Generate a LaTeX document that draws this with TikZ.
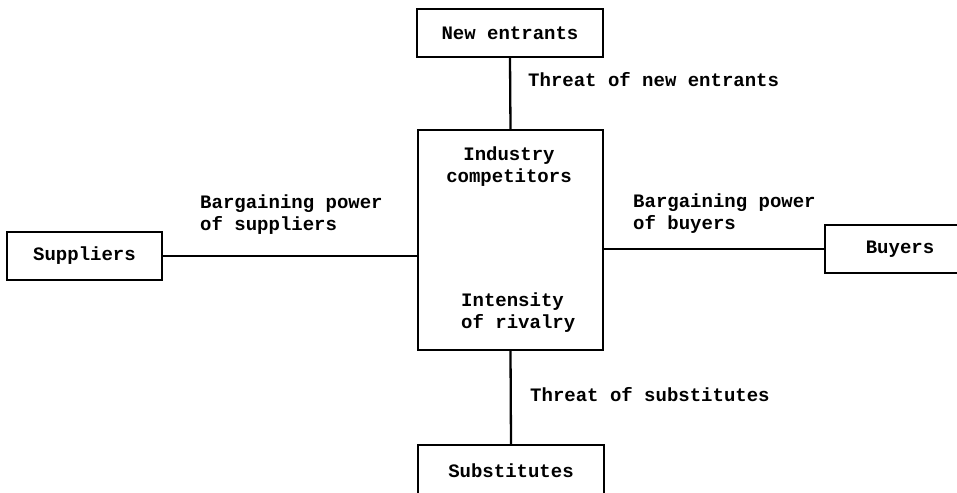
\documentclass[tikz,border=0pt]{standalone}
\usepackage{fontspec}
\setmonofont{Liberation Mono}
\begin{document}
\begin{tikzpicture}[x=1bp,y=-1bp,
  every node/.style={font=\ttfamily\bfseries\fontsize{19bp}{22bp}\selectfont, inner sep=0pt},
  forcebox/.style={draw, line width=2.4bp, minimum width=#1, minimum height=48bp},
  link/.style={line width=2.3bp}]
\clip (0,0) rectangle (957,493);

% the five forces boxes
\node[forcebox=186bp] (ne) at (510,33) {New entrants};
\node[forcebox=185bp, minimum height=220bp] (ctr) at (510.5,240) {};
\node[forcebox=155bp] (sup) at (84.5,256) {Suppliers};
\node[forcebox=150bp] (buy) at (900,249) {Buyers};
\node[forcebox=186bp, minimum height=52bp] (sub) at (511,471) {Substitutes};

% texts inside the central box
\node[align=center] (ind) at (509,167) {Industry\\competitors};
\node[align=left, anchor=west] (riv) at (461,313) {Intensity\\of rivalry};

% connectors
\draw[link] (ne.south) -- (ctr.north);
\draw[link] (ctr.south) -- (sub.north);
\draw[link] (sup.east) -- (sup.east -| ctr.west);
\draw[link] (ctr.east |- buy.west) -- (buy.west);

% connector labels
\node[anchor=west] (tne) at (528,80) {Threat of new entrants};
\node[anchor=west, align=left] (bps) at (200,215) {Bargaining power\\of suppliers};
\node[anchor=west, align=left] (bpb) at (633,214) {Bargaining power\\of buyers};
\node[anchor=west] (tsub) at (530,395) {Threat of substitutes};
\end{tikzpicture}
\end{document}
